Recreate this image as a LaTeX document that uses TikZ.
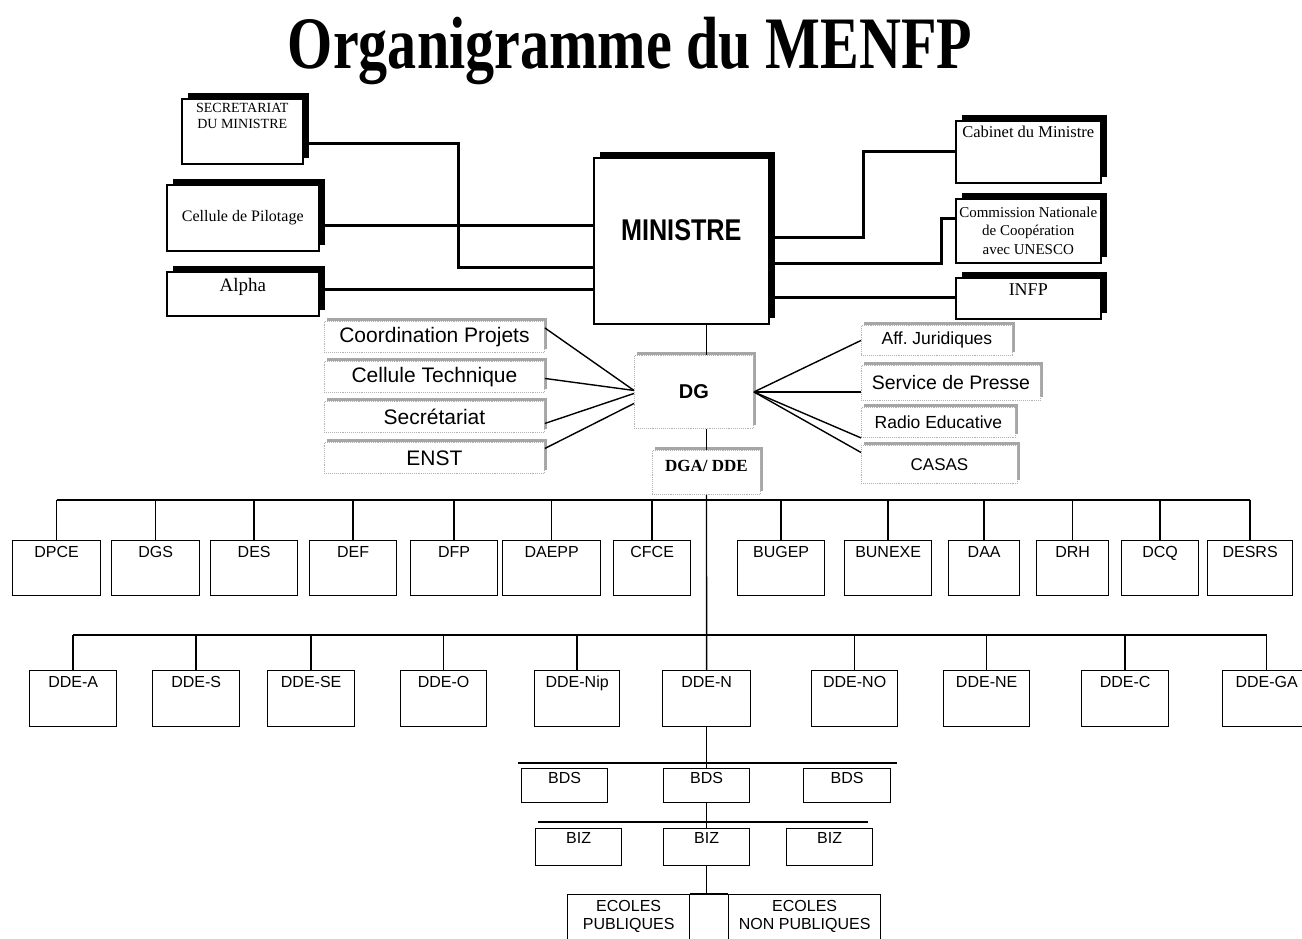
\documentclass[tikz,border=0pt]{standalone}
\usepackage{fontspec}
\setmainfont{Liberation Serif}
\setsansfont{Liberation Sans}
\usepackage{graphicx}
\usetikzlibrary{shadows,positioning,calc}
\newcommand{\boxtext}[3]{\parbox[c][#2][t]{#1}{\centering #3}}

\begin{document}
\begin{tikzpicture}[x=1pt,y=-1pt,
    box/.style={draw, line width=1.3pt, fill=white, anchor=north west, inner xsep=0pt, inner ysep=4pt},
    blk/.style={box, line width=1.5pt, drop shadow={fill=black, opacity=1, shadow xshift=6pt, shadow yshift=6pt}},
    gry/.style={anchor=north west, fill=white, draw=gray!60, densely dotted, line width=0.9pt, inner sep=0pt,
      drop shadow={fill=gray!70, opacity=1, shadow xshift=3pt, shadow yshift=3pt}},
    unit/.style={box, font=\sffamily\fontsize{16}{18}\selectfont},
    link/.style={line width=2.6pt},
    tie/.style={line width=1.4pt}]
    \useasboundingbox (0,0) rectangle (1302,938);
    \clip (0,0) rectangle (1302,938);
    \fill[white] (0,0) rectangle (1302,938);

    \node[anchor=base, font=\rmfamily\bfseries\fontsize{74}{80}\selectfont] (title) at (630,68) {\scalebox{0.785}[1]{Organigramme du MENFP}};

    \node[blk, font=\rmfamily\fontsize{14}{16}\selectfont] (secmin) at (181,98) {\boxtext{121pt}{57pt}{SECRETARIAT\\DU MINISTRE}};
    \node[blk, minimum width=152pt, minimum height=66pt, font=\rmfamily\fontsize{16}{18}\selectfont] (celpil) at (166,184) {Cellule de Pilotage};
    \node[blk, font=\rmfamily\fontsize{19}{21}\selectfont] (alpha) at (166,271) {\boxtext{152pt}{36pt}{\vspace*{3pt}Alpha}};
    \node[blk, font=\sffamily\bfseries\fontsize{30}{32}\selectfont] (ministre) at (593,157) {\boxtext{175pt}{158pt}{\vspace*{58pt}\scalebox{0.84}[1]{MINISTRE}}};
    \node[blk, font=\rmfamily\fontsize{16.5}{18}\selectfont] (cabinet) at (955,120) {\boxtext{145pt}{54pt}{\vspace*{1pt}Cabinet du Ministre}};
    \node[blk, minimum width=145pt, minimum height=64pt, align=center, font=\rmfamily\fontsize{15}{18.5}\selectfont] (cnc) at (955,198) {Commission Nationale\\de Coopération\\avec UNESCO};
    \node[blk, font=\rmfamily\fontsize{18}{20}\selectfont] (infp) at (955,277) {\boxtext{145pt}{33pt}{\vspace*{2pt}INFP}};

    \draw[link] ([yshift=-12pt]secmin.east) -- ++(155,0) |- ([yshift=-27pt]ministre.west);
    \draw[link] ([yshift=-8pt]celpil.east) coordinate (p1) -- (p1 -| ministre.west);
    \draw[link] ([yshift=4pt]alpha.east) coordinate (p2) -- (p2 -| ministre.west);
    \draw[link] ([yshift=3pt]ministre.east) -- ++(94,0) |- (cabinet.west);
    \draw[link] ([yshift=-23pt]ministre.east) -- ++(172,0) |- ([yshift=12pt]cnc.west);
    \draw[link] ([yshift=-57pt]ministre.east) coordinate (p3) -- (p3 -| infp.west);

    \foreach \nm/\y/\txt in {cproj/321/Coordination Projets, celtech/361/Cellule Technique, secr/401/Secrétariat, enst/442/ENST}
      \node[gry, minimum width=220pt, minimum height=31pt, font=\sffamily\fontsize{21}{23}\selectfont] (\nm) at (324,\y) {\txt};
    \node[gry, minimum width=119pt, minimum height=73pt, font=\sffamily\bfseries\fontsize{20}{22}\selectfont] (dg) at (634,355) {DG};
    \node[gry, inner ysep=4pt, font=\rmfamily\bfseries\fontsize{17}{19}\selectfont] (dga) at (652,450) {\boxtext{108pt}{36pt}{\vspace*{6pt}DGA/ DDE}};
    \foreach \nm/\y/\w/\h/\fs/\txt in {affj/325/151/30/17.5/Aff.\ Juridiques, presse/365/179/35/19.5/Service de Presse, radio/407/154/30/17.5/Radio Educative, casas/445/156/38/17/CASAS}
      \node[gry, minimum width=\w pt, minimum height=\h pt, font=\sffamily\fontsize{\fs}{\fs}\selectfont] (\nm) at (861,\y) {\txt};

    \foreach \nm/\a/\b in {cproj/9/1.5, celtech/-1.5/1.5, secr/-6.5/-1.5, enst/9.5/-11.5}
      \draw[tie] ([yshift=\a pt]\nm.east) -- ([yshift=\b pt]dg.west);
    \draw[tie] (dg.east) -- (affj.west);
    \draw[tie] (dg.east) -- (dg.east -| presse.west);
    \draw[tie] (dg.east) -- (radio.south west);
    \draw[tie] (dg.east) -- ([yshift=12pt]casas.west);
    \draw[tie] (ministre.south -| dga.north) -- (dg.north -| dga.north);
    \draw[tie] (dg.south -| dga.north) -- (dga.north);

    \coordinate (bus1) at (0,500);
    \foreach \nm/\x/\w/\txt in {dpce/12/88/DPCE, dgs/111/88/DGS, des/210/87/DES, def/309/87/DEF, dfp/410/87/DFP, daepp/502/98/DAEPP, cfce/613/77/CFCE, bugep/737/87/BUGEP, bunexe/844/87/BUNEXE, daa/948/71/DAA, drh/1036/72/DRH, dcq/1121/77/DCQ, desrs/1207/85/DESRS} {
      \node[unit] (\nm) at (\x,540) {\boxtext{\w pt}{47pt}{\rule{0pt}{13pt}\txt}};
      \draw[tie] (\nm.north) -- (\nm.north |- bus1);
    }
    \draw[tie] (dpce.north |- bus1) -- (desrs.north |- bus1);

    \coordinate (bus2) at (0,635);
    \foreach \nm/\x/\w/\txt in {ddeA/29/87/DDE-A, ddeS/152/87/DDE-S, ddeSE/267/87/DDE-SE, ddeO/400/86/DDE-O, ddeNip/534/85/DDE-Nip, ddeN/662/88/DDE-N, ddeNO/811/86/DDE-NO, ddeNE/943/86/DDE-NE, ddeC/1081/87/DDE-C, ddeGA/1222/88/DDE-GA} {
      \node[unit] (\nm) at (\x,670) {\boxtext{\w pt}{48pt}{\rule{0pt}{13pt}\txt}};
      \draw[tie] (\nm.north) -- (\nm.north |- bus2);
    }
    \draw[tie] (ddeA.north |- bus2) -- (ddeGA.north |- bus2);
    \draw[tie] (dga.south) -- (ddeN.north);

    \coordinate (b3w) at (518,763);
    \coordinate (b3e) at (897,763);
    \coordinate (b4w) at (538,822);
    \coordinate (b4e) at (868,822);
    \foreach \nm/\x/\w in {bdsA/521/86, bdsB/663/86, bdsC/803/87}
      \node[unit] (\nm) at (\x,768) {\boxtext{\w pt}{26pt}{BDS}};
    \foreach \nm/\x/\w in {bizA/535/86, bizB/663/86, bizC/786/86}
      \node[unit] (\nm) at (\x,828) {\boxtext{\w pt}{29pt}{BIZ}};
    \draw[tie] (b3w) -- (b3e);
    \draw[tie] (b4w) -- (b4e);
    \draw[tie] (ddeN.south) -- (bdsB.north);
    \draw[tie] (bdsB.south) -- (bizB.north);

    \node[unit, font=\sffamily\fontsize{16}{17.5}\selectfont] (epub) at (567,894) {\boxtext{122pt}{52pt}{\vspace*{2pt}ECOLES\\PUBLIQUES}};
    \node[unit, font=\sffamily\fontsize{16}{17.5}\selectfont] (enpub) at (728,894) {\boxtext{152pt}{52pt}{\vspace*{2pt}ECOLES\\NON PUBLIQUES}};
    \draw[tie] (epub.north east) -- (enpub.north west);
    \draw[tie] (bizB.south) -- (bizB.south |- epub.north);
\end{tikzpicture}
\end{document}
